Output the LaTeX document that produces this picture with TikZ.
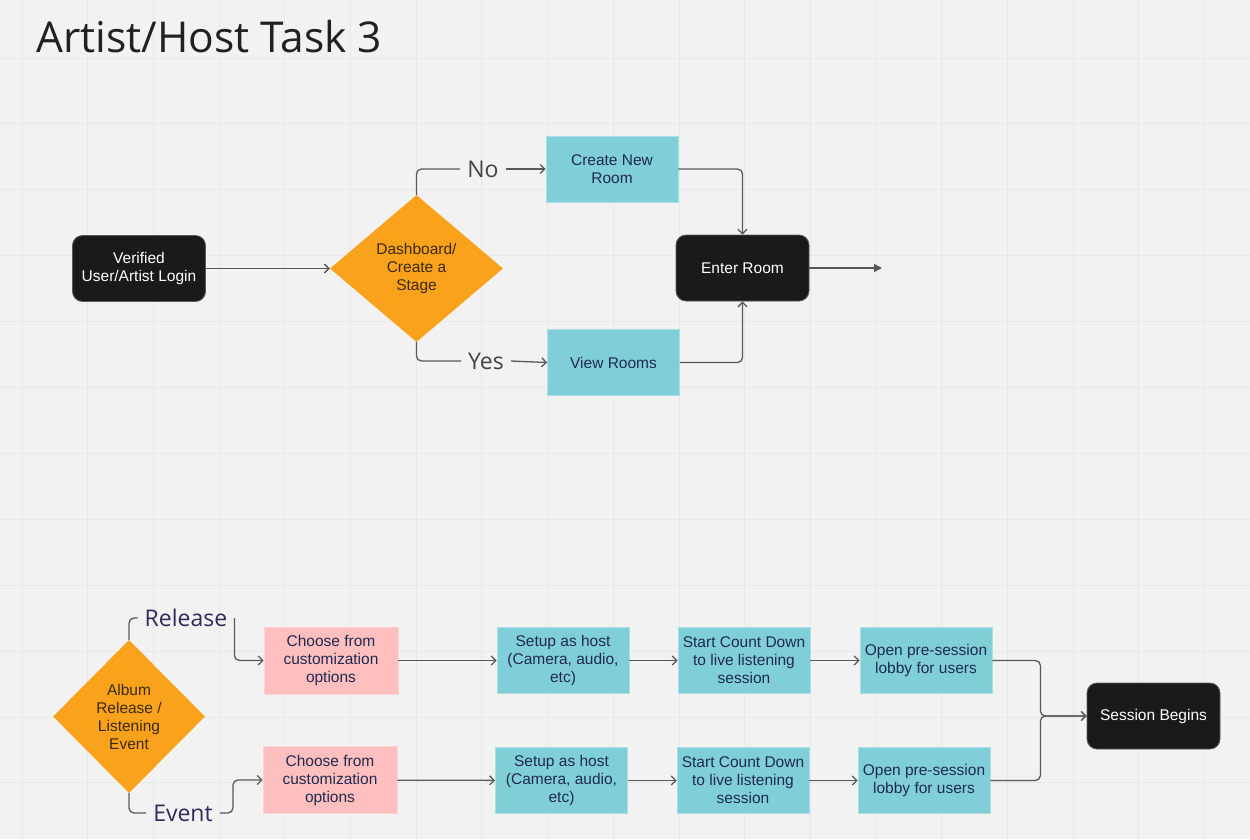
\documentclass[tikz,border=0pt]{standalone}
\usepackage{fontspec}
\setmainfont{Liberation Sans}
\newfontfamily\labelfont{Open Sans}
\usetikzlibrary{shapes.geometric,arrows.meta}
\definecolor{bg}{HTML}{F2F2F2}
\definecolor{gridc}{HTML}{E8E8E8}
\definecolor{cyanbox}{HTML}{80CFD8}
\definecolor{cyanedge}{HTML}{A8E0E6}
\definecolor{pinkbox}{HTML}{FFBFBF}
\definecolor{pinkedge}{HTML}{FFD3D3}
\definecolor{orangec}{HTML}{FAA21B}
\definecolor{blackbox}{HTML}{1A1A1A}
\definecolor{linec}{HTML}{595959}
\definecolor{navy}{HTML}{1F2A4F}
\definecolor{brownt}{HTML}{3B2A0E}
\definecolor{labelnavy}{HTML}{2E2B5C}
\definecolor{labelgray}{HTML}{444444}
\tikzset{
  boxfont/.style={font=\fontsize{15.5}{18}\selectfont},
  cyanstep/.style={boxfont, rectangle, fill=cyanbox, draw=cyanedge, line width=0.8pt, minimum width=132, minimum height=66, align=center, text=navy, inner sep=0},
  pinkstep/.style={boxfont, rectangle, fill=pinkbox, draw=pinkedge, line width=0.8pt, minimum width=134, minimum height=67, align=center, text=navy, inner sep=0},
  blackstep/.style={boxfont, rectangle, rounded corners=10, fill=blackbox, draw=linec, line width=0.8pt, minimum width=133, minimum height=66, align=center, text=white, inner sep=0},
  decision/.style={boxfont, diamond, fill=orangec, align=center, text=brownt, inner sep=0},
  edgelabel/.style={font=\labelfont\fontsize{23}{26}\selectfont, inner xsep=7, inner ysep=2},
  conn/.style={draw=linec, line width=1.3pt, rounded corners=5, -{Straight Barb[length=4.5pt,width=9pt,line width=1.3pt]}},
  plain/.style={draw=linec, line width=1.3pt, rounded corners=5},
  gridline/.style={draw=gridc, line width=1pt}
}
\begin{document}
\begin{tikzpicture}[x=1pt,y=-1pt]
\fill[bg] (0,0) rectangle (1250,839);
\useasboundingbox (0,0) rectangle (1250,839);
% grid
\foreach \i in {0,...,18} {\draw[gridline] ({22+65.7*\i},0) -- ({22+65.7*\i},839);}
\foreach \j in {0,...,12} {\draw[gridline] (0,{58+65.9*\j}) -- (1250,{58+65.9*\j});}
% title
\node[anchor=base west, inner sep=0, font=\labelfont\fontsize{42.5}{50}\selectfont, text=black!87] (title) at (36,52) {Artist/Host Task 3};
% top flow
\node[blackstep] (login) at (139,268.5) {Verified\\User/Artist Login};
\node[decision, minimum width=173, minimum height=147] (dash) at (416.5,268.5) {Dashboard/\\Create a\\Stage};
\node[cyanstep] (cnr) at (612,169) {Create New\\Room};
\node[cyanstep] (vr) at (613.5,362.5) {View Rooms};
\node[blackstep] (er) at (742.5,268) {Enter Room};
\coordinate (erout) at (882,268);
\node[edgelabel, text=labelgray] (no) at (483,169) {No};
\node[edgelabel, text=labelgray] (yes) at (486,361) {Yes};
\draw[conn] (login) -- (dash);
\draw[plain] (dash.north) |- (no.west);
\draw[conn] (no.east) -- (cnr.west);
\draw[plain] (dash.south) |- (yes.west);
\draw[conn] (yes.east) -- (vr.west);
\draw[conn] (cnr.east) -| (er.north);
\draw[conn] (vr.east) -| (er.south);
\draw[draw=linec, line width=1.3pt, -{Triangle[length=8pt,width=8pt]}] (er.east) -- (erout);
% bottom flow
\node[decision, minimum width=152, minimum height=153] (album) at (129,716.5) {Album\\Release /\\Listening\\Event};
\node[edgelabel, text=labelnavy] (rel) at (186,618) {Release};
\node[edgelabel, text=labelnavy] (ev) at (183,813) {Event};
\node[pinkstep] (ch1) at (331,660.5) {Choose from\\customization\\options};
\node[pinkstep] (ch2) at (330,780) {Choose from\\customization\\options};
\node[cyanstep] (su1) at (563,660.5) {Setup as host\\(Camera, audio,\\etc)};
\node[cyanstep] (su2) at (561.5,780.5) {Setup as host\\(Camera, audio,\\etc)};
\node[cyanstep] (sc1) at (744,660.5) {Start Count Down\\to live listening\\session};
\node[cyanstep] (sc2) at (743,780.5) {Start Count Down\\to live listening\\session};
\node[cyanstep] (op1) at (926,660.5) {Open pre-session\\lobby for users};
\node[cyanstep] (op2) at (924,780.5) {Open pre-session\\lobby for users};
\node[blackstep] (sb) at (1153.5,716) {Session Begins};
\draw[plain] (album.north) |- (rel.west);
\draw[conn] (rel.east) |- (ch1.west);
\draw[plain] (album.south) |- (ev.west);
\draw[conn] (ev.east) -- ++(13,0) |- (ch2.west);
\draw[conn] (ch1) -- (su1);
\draw[conn] (su1) -- (sc1);
\draw[conn] (sc1) -- (op1);
\draw[conn] (ch2) -- (su2);
\draw[conn] (su2) -- (sc2);
\draw[conn] (sc2) -- (op2);
\draw[conn] (op1.east) -- ++(48,0) |- (sb.west);
\draw[conn] (op2.east) -- ++(50,0) |- (sb.west);
\end{tikzpicture}
\end{document}
